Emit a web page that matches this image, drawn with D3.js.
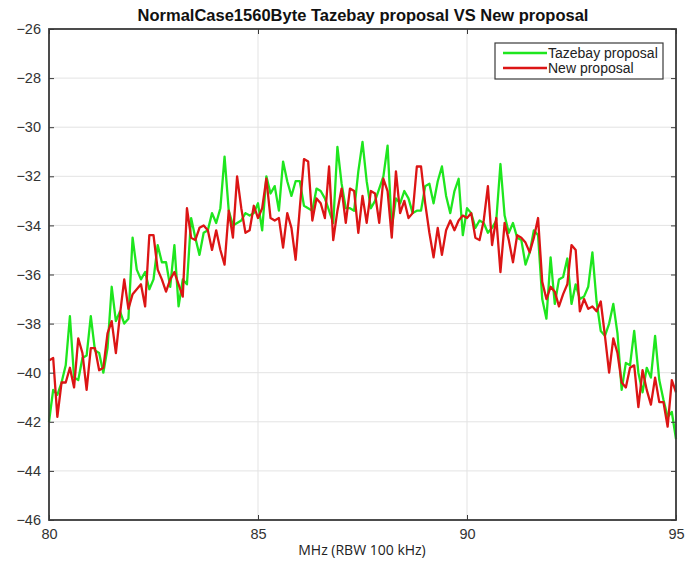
<!DOCTYPE html>
<html>
<head>
<meta charset="utf-8">
<script src="https://cdn.jsdelivr.net/npm/d3@7"></script>
<style>
  html, body { margin: 0; padding: 0; background: #fff; }
  svg { display: block; }
</style>
</head>
<body>
<svg id="chart" width="687" height="564"></svg>
<script>
// ---- data ----
const titleText = "NormalCase1560Byte Tazebay proposal VS New proposal";
const xLabel = "MHz (RBW 100 kHz)";
const seriesNames = ["Tazebay proposal", "New proposal"];
const freqStart = 80, freqStep = 0.1;
const xTicks = [80, 85, 90, 95];
const yTicks = [-26, -28, -30, -32, -34, -36, -38, -40, -42, -44, -46];

const tazebay = [
  -42.0, -40.7, -40.9, -40.4, -39.7, -37.7, -40.2, -40.3, -39.4, -39.3,
  -37.7, -39.1, -39.2, -40.0, -39.0, -36.5, -37.9, -37.5, -38.0, -37.8,
  -34.5, -35.8, -36.2, -35.9, -36.6, -36.2, -34.8, -35.5, -35.5, -36.5,
  -34.8, -37.3, -36.2, -36.4, -33.7, -34.5, -35.2, -34.3, -34.2, -33.5,
  -33.9, -33.3, -31.2, -33.4, -34.0, -33.9, -33.8, -33.5, -33.6, -33.5,
  -33.1, -34.2, -32.0, -32.7, -32.4, -33.4, -31.4, -32.2, -32.8, -32.2,
  -32.2, -33.2, -33.3, -33.4, -32.5, -32.6, -32.9, -33.4, -33.9, -30.8,
  -32.3, -33.3, -33.3, -33.4, -31.8, -30.6, -32.2, -33.3, -33.0, -32.5,
  -32.0, -30.75, -34.1, -32.9, -33.1, -32.6, -32.9, -33.5, -33.4, -33.4,
  -32.4, -32.3, -33.1, -32.2, -31.6, -32.8, -33.5, -32.6, -32.1, -34.4,
  -33.3, -33.5, -34.1, -33.8, -33.9, -34.3, -34.1, -33.8, -31.5, -33.6,
  -34.3, -33.9, -34.5, -34.6, -35.6, -35.1, -34.2, -34.4, -37.0, -37.8,
  -35.3, -37.2, -36.2, -36.1, -35.35, -37.2, -36.4, -37.0, -36.9, -36.5,
  -35.1, -37.1, -38.3, -38.5, -38.0, -37.2, -38.4, -40.7, -39.6, -39.7,
  -38.3, -40.0, -40.8, -39.8, -40.2, -38.5, -40.3, -41.1, -41.8, -41.6,
  -42.7
];

const newProposal = [
  -39.5, -39.4, -41.8, -40.4, -40.4, -39.8, -40.6, -38.6, -39.2, -40.7,
  -39.0, -39.0, -39.9, -39.8, -38.4, -37.9, -39.2, -37.6, -36.2, -37.4,
  -36.8, -36.6, -36.4, -37.3, -34.4, -34.4, -35.8, -36.2, -36.7, -36.2,
  -35.9, -36.4, -36.9, -33.3, -34.5, -34.6, -34.1, -34.0, -34.2, -35.0,
  -34.2, -35.0, -35.6, -33.4, -34.5, -32.0, -33.3, -34.3, -34.2, -33.2,
  -33.7, -33.3, -32.1, -33.7, -33.8, -33.7, -34.9, -33.5, -34.1, -35.4,
  -33.3, -31.3, -31.4, -33.8, -32.9, -33.1, -33.7, -31.6, -34.6, -33.4,
  -32.5, -33.9, -32.5, -32.6, -34.3, -32.8, -33.9, -32.6, -32.7, -33.9,
  -32.1, -32.6, -34.5, -31.8, -33.5, -33.0, -33.7, -33.5, -31.6, -31.6,
  -33.1, -34.3, -35.3, -34.1, -35.2, -34.2, -33.8, -34.2, -33.8, -33.6,
  -33.7, -33.5, -34.5, -34.6, -33.8, -32.4, -34.8, -33.7, -35.9, -33.9,
  -34.6, -35.5, -34.4, -34.5, -34.7, -35.1, -34.5, -33.7, -36.3, -37.0,
  -36.5, -36.7, -37.3, -36.8, -36.4, -34.8, -35.0, -37.5, -37.0, -37.4,
  -37.3, -37.5, -37.1, -38.5, -40.0, -38.6, -39.2, -40.4, -40.6, -39.8,
  -39.7, -41.4, -39.9, -40.7, -41.3, -40.2, -41.2, -41.2, -42.2, -40.3,
  -40.8
];

const seriesColors = ["#1ee61e", "#dc1515"];

// ---- layout ----
const svg = d3.select("#chart");
const W = 687, H = 564;
const m = { left: 49, right: 11, top: 29, bottom: 44 };
const x0 = m.left, x1 = W - m.right, y0 = m.top, y1 = H - m.bottom;

const x = d3.scaleLinear().domain([80, 95]).range([x0, x1]);
const y = d3.scaleLinear().domain([-46, -26]).range([y1, y0]);

const freqAt = i => +(freqStart + i * freqStep).toFixed(2);

// gridlines
const grid = svg.append("g");
grid.selectAll("line.gy").data(yTicks).join("line")
  .attr("x1", x0).attr("x2", x1)
  .attr("y1", d => y(d)).attr("y2", d => y(d))
  .attr("stroke", "#e3e3e3").attr("stroke-width", 1);
grid.selectAll("line.gx").data(xTicks).join("line")
  .attr("x1", d => x(d)).attr("x2", d => x(d))
  .attr("y1", y0).attr("y2", y1)
  .attr("stroke", "#e3e3e3").attr("stroke-width", 1);

// series lines
const line = d3.line().x((d, i) => x(freqAt(i))).y(d => y(d));
const plot = svg.append("g");
[tazebay, newProposal].forEach((s, k) => {
  plot.append("path").datum(s)
    .attr("d", line)
    .attr("fill", "none")
    .attr("stroke", seriesColors[k])
    .attr("stroke-width", 2.3)
    .attr("stroke-linejoin", "round");
});

// axes (ticks inward)
const axisColor = "#3a3a3a";
const yAxis = svg.append("g").attr("transform", `translate(${x0},0)`)
  .call(d3.axisLeft(y).tickValues(yTicks).tickSize(-5).tickPadding(8).tickFormat(d3.format("d")));
const xAxis = svg.append("g").attr("transform", `translate(0,${y1})`)
  .call(d3.axisBottom(x).tickValues(xTicks).tickSize(-5).tickPadding(9).tickFormat(d3.format("d")));
const yAxisR = svg.append("g").attr("transform", `translate(${x1},0)`)
  .call(d3.axisRight(y).tickValues(yTicks).tickSize(-5).tickFormat(""));
const xAxisT = svg.append("g").attr("transform", `translate(0,${y0})`)
  .call(d3.axisTop(x).tickValues(xTicks).tickSize(-5).tickFormat(""));

[yAxis, xAxis, yAxisR, xAxisT].forEach(a => {
  a.select(".domain").remove();
  a.selectAll(".tick line").attr("stroke", axisColor).attr("stroke-width", 1);
  a.selectAll(".tick text")
    .attr("fill", "#333")
    .style("font-family", "'Liberation Sans', Arial, sans-serif")
    .style("font-size", "14.5px");
});

// frame
svg.append("rect")
  .attr("x", x0).attr("y", y0)
  .attr("width", x1 - x0).attr("height", y1 - y0)
  .attr("fill", "none").attr("stroke", axisColor).attr("stroke-width", 1.8);

// title
svg.append("text")
  .attr("x", 363).attr("y", 21)
  .attr("text-anchor", "middle")
  .style("font-family", "'Liberation Sans', Arial, sans-serif")
  .style("font-weight", "bold")
  .style("font-size", "16.5px")
  .attr("fill", "#111")
  .text(titleText);

// x label
svg.append("text")
  .attr("x", 362).attr("y", 555)
  .attr("text-anchor", "middle")
  .style("font-family", "'Open Sans', 'Liberation Sans', sans-serif")
  .style("font-size", "14px")
  .attr("fill", "#222")
  .text(xLabel);

// legend
const lg = svg.append("g");
lg.append("rect")
  .attr("x", 495).attr("y", 43).attr("width", 168).attr("height", 36)
  .attr("fill", "#fff").attr("stroke", axisColor).attr("stroke-width", 1.2);
seriesNames.forEach((name, k) => {
  const ly = 53 + k * 15;
  lg.append("line")
    .attr("x1", 503).attr("x2", 547).attr("y1", ly).attr("y2", ly)
    .attr("stroke", seriesColors[k]).attr("stroke-width", 2.3);
  lg.append("text")
    .attr("x", 548).attr("y", ly + 4.5)
    .style("font-family", "'Liberation Sans', Arial, sans-serif")
    .style("font-size", "14px")
    .attr("fill", "#222")
    .text(name);
});
</script>
</body>
</html>
